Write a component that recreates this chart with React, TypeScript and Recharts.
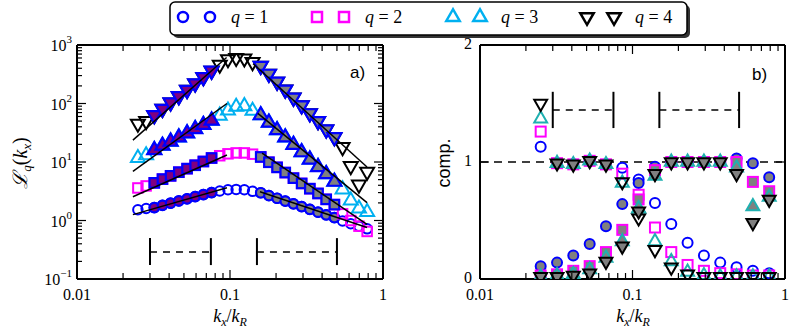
import { ScatterChart, Scatter, XAxis, YAxis, ReferenceLine } from "recharts";

// wavenumbers k_x/k_R (panel a uses all, panel b every other one)
const kA = [
  0.025, 0.0283, 0.032, 0.0362, 0.0409, 0.0463, 0.0524, 0.0592, 0.067, 0.0758,
  0.0857, 0.097, 0.1097, 0.1241, 0.1404, 0.1588, 0.1796, 0.2031, 0.2297, 0.2599,
  0.294, 0.3325, 0.3761, 0.4254, 0.4812, 0.5443, 0.6157, 0.6964, 0.7877,
];
const kB = [
  0.025, 0.032, 0.0409, 0.0524, 0.067, 0.0857, 0.1097, 0.1404, 0.1796, 0.2297,
  0.294, 0.3761, 0.4812, 0.6157, 0.7877,
];

// panel a: L_q(k_x)
const Lq1 = [1.53, 1.6, 1.66, 1.82, 1.98, 2.16, 2.35, 2.56, 2.77, 3.0, 3.2, 3.35, 3.4, 3.35, 3.15, 2.98, 2.67, 2.4, 2.15, 1.93, 1.73, 1.55, 1.39, 1.25, 1.12, 0.98, 0.88, 0.8, 0.72];
const Lq2 = [3.6, 3.9, 4.4, 5.1, 5.8, 6.7, 7.7, 8.8, 10.2, 11.7, 12.8, 13.8, 14.3, 14.3, 13.6, 12.2, 9.9, 8.1, 6.6, 5.3, 4.3, 3.5, 2.9, 2.3, 1.87, 1.3, 1.0, 0.8, 0.65];
const Lq3 = [11.7, 13.0, 16, 19, 22.3, 26.3, 31, 36.6, 43, 51, 62, 76, 88, 90, 75, 63, 47, 35, 26.3, 19.7, 14.7, 11, 8.2, 6.2, 4.6, 3.4, 2.2, 1.6, 1.4];
const Lq4 = [45, 50, 63, 81, 104, 133, 171, 220, 282, 363, 460, 570, 600, 590, 510, 440, 322, 236, 173, 126, 93, 68, 50, 36, 26.5, 18, 8.5, 4.1, 6.8];

// fit ranges (brackets)
const leftFit = [0.03, 0.075];
const rightFit = [0.15, 0.5];

// power-law fit lines [k, L]
const fitL1 = [[0.0232, 1.26], [0.0955, 3.62]];
const fitL2 = [[0.0232, 2.55], [0.0955, 13.2]];
const fitL3 = [[0.0232, 6.9], [0.0955, 100]];
const fitL4 = [[0.0232, 23.6], [0.095, 612]];
const fitR1 = [[0.157, 3.1], [0.786, 0.76]];
const fitR2 = [[0.162, 14.2], [0.786, 0.855]];
const fitR3 = [[0.152, 67.6], [0.786, 2.02]];
const fitR4 = [[0.1417, 477], [0.786, 8.2]];

// panel b: compensated spectra, two components per q
const A1 = [1.13, 0.99, 0.98, 1.01, 0.98, 0.95, 0.85, 0.65, 0.47, 0.31, 0.2, 0.14, 0.1, 0.07, 0.05];
const A2 = [1.26, 0.99, 0.98, 1.01, 0.98, 0.9, 0.72, 0.44, 0.23, 0.12, 0.07, 0.05, 0.04, 0.03, 0.03];
const A3 = [1.37, 0.99, 0.98, 1.01, 0.98, 0.82, 0.6, 0.32, 0.15, 0.06, 0.03, 0.02, 0.02, 0.02, 0.02];
const A4 = [1.5, 0.99, 0.98, 1.01, 0.98, 0.83, 0.52, 0.25, 0.1, 0.04, 0.02, 0.02, 0.02, 0.02, 0.02];
const B1 = [0.11, 0.14, 0.2, 0.3, 0.45, 0.64, 0.82, 0.96, 1.0, 1.0, 1.0, 1.0, 1.03, 0.99, 0.87];
const B2 = [0.03, 0.04, 0.07, 0.11, 0.23, 0.42, 0.68, 0.93, 1.0, 1.0, 1.0, 1.0, 1.0, 0.83, 0.75];
const B3 = [0.02, 0.03, 0.04, 0.08, 0.18, 0.32, 0.6, 0.88, 1.0, 1.0, 1.0, 1.0, 0.95, 0.62, 0.7];
const B4 = [0.02, 0.02, 0.03, 0.05, 0.15, 0.28, 0.58, 0.9, 1.0, 1.0, 1.0, 1.0, 0.9, 0.48, 0.68];

const qLabels = ["1", "2", "3", "4"];

const xTicks = [0.01, 0.02, 0.03, 0.04, 0.05, 0.06, 0.07, 0.08, 0.09, 0.1, 0.2, 0.3, 0.4, 0.5, 0.6, 0.7, 0.8, 0.9, 1];
const yTicksA = [
  0.1, 0.2, 0.3, 0.4, 0.5, 0.6, 0.7, 0.8, 0.9, 1, 2, 3, 4, 5, 6, 7, 8, 9, 10, 20, 30, 40, 50, 60, 70, 80, 90,
  100, 200, 300, 400, 500, 600, 700, 800, 900, 1000,
];
const yTicksB = [0, 1, 2];

const SERIF = "'Liberation Serif', 'DejaVu Serif', serif";
const SANS = "'Liberation Sans', Arial, sans-serif";
const BLUE = "#0000ff";
const MAG = "#ff00ff";
const CYAN = "#00b0f0";
const TEAL = "#1fb0b0";
const GRAY = "#808080";
const PURPLE = "#800080";

const PW = 306;
const PH = 234;

type Kind = "circle" | "square" | "tri" | "dtri";

function Mark({ cx, cy, kind, s, fill, stroke, sw }: any) {
  if (cx == null || cy == null) return <g />;
  if (kind === "circle") return <circle cx={cx} cy={cy} r={s / 2} fill={fill} stroke={stroke} strokeWidth={sw} />;
  if (kind === "square")
    return <rect x={cx - s / 2} y={cy - s / 2} width={s} height={s} fill={fill} stroke={stroke} strokeWidth={sw} />;
  const R = s * 0.62;
  const pts =
    kind === "tri"
      ? `${cx},${cy - R} ${cx - R * 0.866},${cy + R / 2} ${cx + R * 0.866},${cy + R / 2}`
      : `${cx},${cy + R} ${cx - R * 0.866},${cy - R / 2} ${cx + R * 0.866},${cy - R / 2}`;
  return <polygon points={pts} fill={fill} stroke={stroke} strokeWidth={sw} strokeLinejoin="miter" />;
}

const isDecade = (v: number) => Math.abs(Math.log10(v) - Math.round(Math.log10(v))) < 1e-6;

function XTick({ x, y, payload }: any) {
  const v = payload.value;
  const major = isDecade(v);
  const len = major ? 9 : 6;
  return (
    <g>
      <line x1={x} x2={x} y1={y} y2={y - len} stroke="#000" strokeWidth={1.2} />
      <line x1={x} x2={x} y1={y - PH} y2={y - PH + len} stroke="#000" strokeWidth={1.2} />
      {major && (
        <text x={x} y={y + 21} textAnchor="middle" fontFamily={SERIF} fontSize={16} fill="#000">
          {String(v)}
        </text>
      )}
    </g>
  );
}

function YTickA({ x, y, payload }: any) {
  const v = payload.value;
  const major = isDecade(v);
  const len = major ? 9 : 5;
  const e = Math.round(Math.log10(v));
  return (
    <g>
      <line x1={x} x2={x + len} y1={y} y2={y} stroke="#000" strokeWidth={1.2} />
      <line x1={x + PW} x2={x + PW - len} y1={y} y2={y} stroke="#000" strokeWidth={1.2} />
      {major && (
        <text x={x - 5} y={y + 6} textAnchor="end" fontFamily={SERIF} fontSize={16} fill="#000">
          10
          <tspan dy={-8} fontSize={11}>
            {e < 0 ? "\u2212" + Math.abs(e) : String(e)}
          </tspan>
        </text>
      )}
    </g>
  );
}

function YTickB({ x, y, payload }: any) {
  return (
    <g>
      <line x1={x} x2={x + 9} y1={y} y2={y} stroke="#000" strokeWidth={1.2} />
      <line x1={x + 305} x2={x + 296} y1={y} y2={y} stroke="#000" strokeWidth={1.2} />
      <text x={x - 8} y={y + 4} textAnchor="end" fontFamily={SERIF} fontSize={16} fill="#000">
        {String(payload.value)}
      </text>
    </g>
  );
}

const inRange = (k: number, r: number[]) => k >= r[0] * 0.99 && k <= r[1] * 1.02;
const toPts = (ks: number[], vals: number[]) => ks.map((k, i) => ({ k, v: vals[i] }));
const pairPts = (arr: number[][]) => arr.map(([k, v]) => ({ k, v }));

const seriesA = [
  { vals: Lq1, kind: "circle" as Kind, color: BLUE, s: 9.5 },
  { vals: Lq2, kind: "square" as Kind, color: MAG, s: 9.5 },
  { vals: Lq3, kind: "tri" as Kind, color: CYAN, s: 13 },
  { vals: Lq4, kind: "dtri" as Kind, color: "#000", s: 13 },
];
const fitsA = [fitL1, fitL2, fitL3, fitL4, fitR1, fitR2, fitR3, fitR4];

const seriesB = [
  { a: A1, b: B1, kind: "circle" as Kind, color: BLUE, fill: GRAY, s: 10 },
  { a: A2, b: B2, kind: "square" as Kind, color: MAG, fill: GRAY, s: 10 },
  { a: A3, b: B3, kind: "tri" as Kind, color: TEAL, fill: TEAL, s: 12 },
  { a: A4, b: B4, kind: "dtri" as Kind, color: "#000", fill: GRAY, s: 12 },
];

function bracket(r: number[], yMid: number, yLo: number, yHi: number) {
  return [
    { pts: [{ k: r[0], v: yLo }, { k: r[0], v: yHi }], dash: undefined, w: 2 },
    { pts: [{ k: r[1], v: yLo }, { k: r[1], v: yHi }], dash: undefined, w: 2 },
    { pts: [{ k: r[0], v: yMid }, { k: r[1], v: yMid }], dash: "7 6", w: 1.5 },
  ];
}

const noShape = () => <g />;

function PanelA() {
  const brackets = [...bracket(leftFit, 0.29, 0.173, 0.5), ...bracket(rightFit, 0.29, 0.173, 0.5)];
  return (
    <ScatterChart width={400} height={331} margin={{ top: 45, right: 17, bottom: 0, left: 0 }}>
      <XAxis
        type="number"
        dataKey="k"
        scale="log"
        domain={[0.01, 1]}
        allowDataOverflow
        ticks={xTicks}
        interval={0}
        height={52}
        tickSize={0}
        tickMargin={0}
        tickLine={false}
        axisLine={{ stroke: "#000", strokeWidth: 2 }}
        tick={<XTick />}
      />
      <YAxis
        type="number"
        dataKey="v"
        scale="log"
        domain={[0.1, 1000]}
        allowDataOverflow
        ticks={yTicksA}
        interval={0}
        width={77}
        tickSize={0}
        tickMargin={0}
        tickLine={false}
        axisLine={{ stroke: "#000", strokeWidth: 2 }}
        tick={<YTickA />}
      />
      <ReferenceLine y={1000} stroke="#000" strokeWidth={2} />
      <ReferenceLine x={1} stroke="#000" strokeWidth={2} />
      {seriesA.map((s, qi) => [
        <Scatter
          key={"o" + qi}
          data={toPts(kA, s.vals)}
          isAnimationActive={false}
          shape={(p: any) => <Mark cx={p.cx} cy={p.cy} kind={s.kind} s={s.s} fill="none" stroke={s.color} sw={2} />}
        />,
        <Scatter
          key={"l" + qi}
          data={toPts(kA, s.vals).filter((d) => inRange(d.k, leftFit))}
          isAnimationActive={false}
          shape={(p: any) => <Mark cx={p.cx} cy={p.cy} kind={s.kind} s={s.s} fill={PURPLE} stroke={BLUE} sw={2.2} />}
        />,
        <Scatter
          key={"r" + qi}
          data={toPts(kA, s.vals).filter((d) => inRange(d.k, rightFit))}
          isAnimationActive={false}
          shape={(p: any) => <Mark cx={p.cx} cy={p.cy} kind={s.kind} s={s.s} fill={GRAY} stroke={BLUE} sw={2.2} />}
        />,
      ])}
      {fitsA.map((f, i) => (
        <Scatter
          key={"f" + i}
          data={pairPts(f)}
          isAnimationActive={false}
          line={{ stroke: "#000", strokeWidth: 1.5 }}
          shape={noShape}
        />
      ))}
      {brackets.map((b, i) => (
        <Scatter
          key={"b" + i}
          data={b.pts}
          isAnimationActive={false}
          line={{ stroke: "#000", strokeWidth: b.w, strokeDasharray: b.dash }}
          shape={noShape}
        />
      ))}
    </ScatterChart>
  );
}

function PanelB() {
  const brackets = [...bracket(leftFit, 1.444, 1.29, 1.6), ...bracket(rightFit, 1.444, 1.29, 1.6)];
  return (
    <ScatterChart width={390} height={331} margin={{ top: 45, right: 5, bottom: 0, left: 0 }}>
      <XAxis
        type="number"
        dataKey="k"
        scale="log"
        domain={[0.01, 1]}
        allowDataOverflow
        ticks={xTicks}
        interval={0}
        height={52}
        tickSize={0}
        tickMargin={0}
        tickLine={false}
        axisLine={{ stroke: "#000", strokeWidth: 2 }}
        tick={<XTick />}
      />
      <YAxis
        type="number"
        dataKey="v"
        domain={[0, 2]}
        allowDataOverflow
        ticks={yTicksB}
        interval={0}
        width={80}
        tickSize={0}
        tickMargin={0}
        tickLine={false}
        axisLine={{ stroke: "#000", strokeWidth: 2 }}
        tick={<YTickB />}
      />
      <ReferenceLine y={2} stroke="#000" strokeWidth={2} />
      <ReferenceLine x={1} stroke="#000" strokeWidth={2} />
      <ReferenceLine y={1} stroke="#000" strokeWidth={1.3} strokeDasharray="8 6" />
      {brackets.map((b, i) => (
        <Scatter
          key={"b" + i}
          data={b.pts}
          isAnimationActive={false}
          line={{ stroke: "#000", strokeWidth: b.w, strokeDasharray: b.dash }}
          shape={noShape}
        />
      ))}
      {seriesB.map((s, qi) => [
        <Scatter
          key={"a" + qi}
          data={toPts(kB, s.a)}
          isAnimationActive={false}
          shape={(p: any) => {
            const filled = inRange(p.payload.k, leftFit);
            return (
              <Mark cx={p.cx} cy={p.cy} kind={s.kind} s={s.s} fill={filled ? s.fill : "none"} stroke={s.color} sw={2} />
            );
          }}
        />,
        <Scatter
          key={"bb" + qi}
          data={toPts(kB, s.b)}
          isAnimationActive={false}
          shape={(p: any) => <Mark cx={p.cx} cy={p.cy} kind={s.kind} s={s.s} fill={GRAY} stroke={s.color} sw={2} />}
        />,
      ])}
    </ScatterChart>
  );
}

function KLabel({ x, y }: { x: number; y: number }) {
  return (
    <text x={x} y={y} textAnchor="middle" fontFamily={SERIF} fontSize={18} fill="#000">
      <tspan fontStyle="italic">k</tspan>
      <tspan fontStyle="italic" fontSize={12} dy={4}>x</tspan>
      <tspan dy={-4}>/</tspan>
      <tspan fontStyle="italic">k</tspan>
      <tspan fontStyle="italic" fontSize={12} dy={4}>R</tspan>
    </text>
  );
}

function Overlay() {
  const items = [
    { kind: "circle" as Kind, color: BLUE, x: 183, s: 10 },
    { kind: "square" as Kind, color: MAG, x: 317, s: 10 },
    { kind: "tri" as Kind, color: CYAN, x: 453, s: 12.5 },
    { kind: "dtri" as Kind, color: "#000", x: 587, s: 12.5 },
  ];
  return (
    <svg width={790} height={331} style={{ position: "absolute", left: 0, top: 0, pointerEvents: "none" }}>
      <rect x={173} y={5} width={517} height={33} rx={5} fill="#333" />
      <rect x={170} y={2} width={517} height={33} rx={5} fill="#fff" stroke="#000" strokeWidth={1.5} />
      {items.map((it, i) => (
        <g key={i}>
          <Mark cx={it.x} cy={17} kind={it.kind} s={it.s} fill="none" stroke={it.color} sw={2.5} />
          <Mark cx={it.x + 27} cy={17} kind={it.kind} s={it.s} fill="none" stroke={it.color} sw={2.5} />
          <text x={it.x + 48} y={23} fontFamily={SERIF} fontSize={18} fill="#000">
            <tspan fontStyle="italic">q</tspan>
            {" = " + qLabels[i]}
          </text>
        </g>
      ))}
      <text x={350} y={78} fontFamily={SANS} fontSize={17} fill="#000">a)</text>
      <text x={752} y={80} fontFamily={SANS} fontSize={17} fill="#000">b)</text>
      <KLabel x={230} y={322} />
      <KLabel x={633} y={322} />
      <text
        transform="translate(27,163) rotate(-90)"
        textAnchor="middle"
        fontFamily={SERIF}
        fontSize={20}
        fill="#000"
      >
        <tspan fontStyle="italic">{"\u2112"}</tspan>
        <tspan fontStyle="italic" fontSize={13} dy={4}>q</tspan>
        <tspan dy={-4}>(</tspan>
        <tspan fontStyle="italic">k</tspan>
        <tspan fontStyle="italic" fontSize={13} dy={4}>x</tspan>
        <tspan dy={-4}>)</tspan>
      </text>
      <text transform="translate(450,163) rotate(-90)" textAnchor="middle" fontFamily={SANS} fontSize={18} fill="#000">
        comp.
      </text>
    </svg>
  );
}

export default function App() {
  return (
    <div style={{ position: "absolute", left: 0, top: 0, width: 790, height: 331, background: "#fff" }}>
      <div style={{ position: "absolute", left: 0, top: 0 }}>
        <PanelA />
      </div>
      <div style={{ position: "absolute", left: 400, top: 0 }}>
        <PanelB />
      </div>
      <Overlay />
    </div>
  );
}
